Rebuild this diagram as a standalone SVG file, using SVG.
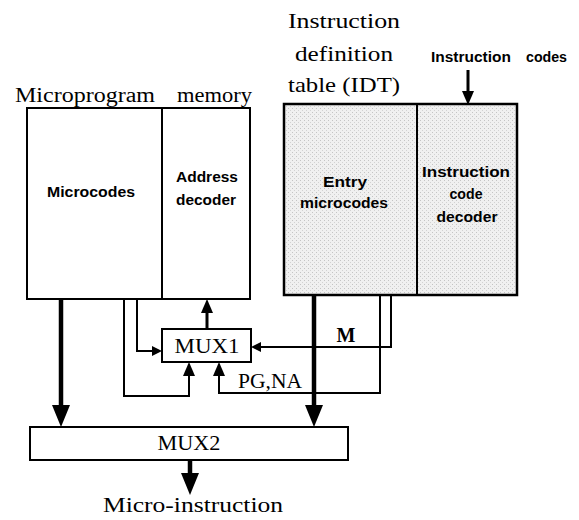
<svg xmlns="http://www.w3.org/2000/svg" width="579" height="520" viewBox="0 0 579 520">
<style>
.box{fill:#fff;stroke:#000;stroke-width:2}
.idt{fill:url(#dots);stroke:#000;stroke-width:2.5}
.div{stroke:#000;stroke-width:2;fill:none}
.thin{fill:none;stroke:#000;stroke-width:2}
.mid{fill:none;stroke:#000;stroke-width:3}
.thick{fill:none;stroke:#000;stroke-width:4.5}
.serif{font-family:"Liberation Serif","Times New Roman",serif;fill:#000}
.sans{font-family:"Liberation Sans",Arial,sans-serif;font-weight:bold;fill:#000}
</style>
<defs>
<pattern id="dots" width="4" height="4" patternUnits="userSpaceOnUse">
<rect width="4" height="4" fill="#f0f0f0"/>
<rect x="0" y="0" width="1" height="1" fill="#c4c4c4"/>
<rect x="2" y="2" width="1" height="1" fill="#d2d2d2"/>
</pattern>
<marker id="big" viewBox="0 -9 22 18" refX="0" refY="0" markerWidth="22" markerHeight="18" markerUnits="userSpaceOnUse" orient="auto"><path d="M0,-9 L22,0 L0,9 z" fill="#000"/></marker>
<marker id="med" viewBox="0 -6 14 12" refX="0" refY="0" markerWidth="14" markerHeight="12" markerUnits="userSpaceOnUse" orient="auto"><path d="M0,-6 L14,0 L0,6 z" fill="#000"/></marker>
<marker id="sm" viewBox="0 -5 10 10" refX="0" refY="0" markerWidth="10" markerHeight="10" markerUnits="userSpaceOnUse" orient="auto"><path d="M0,-5 L10,0 L0,5 z" fill="#000"/></marker>
</defs>

<g id="microprogram-memory">
<text class="serif" font-size="20" y="102"><tspan x="15" textLength="140" lengthAdjust="spacingAndGlyphs">Microprogram</tspan><tspan x="177" textLength="75" lengthAdjust="spacingAndGlyphs">memory</tspan></text>
<rect class="box" x="27" y="108" width="223" height="191"/>
<line class="div" x1="162" y1="108" x2="162" y2="299"/>
<text class="sans" font-size="15" x="91" y="197" text-anchor="middle" textLength="88" lengthAdjust="spacingAndGlyphs">Microcodes</text>
<text class="sans" font-size="15" x="207" y="182" text-anchor="middle" textLength="62" lengthAdjust="spacingAndGlyphs">Address</text>
<text class="sans" font-size="15" x="206" y="205" text-anchor="middle" textLength="60" lengthAdjust="spacingAndGlyphs">decoder</text>
</g>

<g id="idt">
<text class="serif" font-size="21" x="288" y="28" textLength="112" lengthAdjust="spacingAndGlyphs">Instruction</text>
<text class="serif" font-size="21" x="295" y="61" textLength="98" lengthAdjust="spacingAndGlyphs">definition</text>
<text class="serif" font-size="21" x="288" y="92" textLength="112" lengthAdjust="spacingAndGlyphs">table (IDT)</text>
<rect class="idt" x="284" y="104" width="233" height="191"/>
<line class="div" x1="417" y1="104" x2="417" y2="295"/>
<text class="sans" font-size="15" x="345" y="187" text-anchor="middle" textLength="44" lengthAdjust="spacingAndGlyphs">Entry</text>
<text class="sans" font-size="15" x="344" y="208" text-anchor="middle" textLength="88" lengthAdjust="spacingAndGlyphs">microcodes</text>
<text class="sans" font-size="15" x="466" y="177" text-anchor="middle" textLength="88" lengthAdjust="spacingAndGlyphs">Instruction</text>
<text class="sans" font-size="15" x="466" y="199" text-anchor="middle" textLength="33" lengthAdjust="spacingAndGlyphs">code</text>
<text class="sans" font-size="15" x="467" y="222" text-anchor="middle" textLength="61" lengthAdjust="spacingAndGlyphs">decoder</text>
</g>

<g id="instruction-codes">
<text class="sans" font-size="14" y="62"><tspan x="431" textLength="80" lengthAdjust="spacingAndGlyphs">Instruction</tspan><tspan x="526" textLength="41" lengthAdjust="spacingAndGlyphs">codes</tspan></text>
</g>

<g id="mux1">
<rect class="box" x="162" y="329" width="89" height="33"/>
<text class="serif" font-size="21" x="207" y="353" text-anchor="middle" textLength="65" lengthAdjust="spacingAndGlyphs">MUX1</text>
</g>

<g id="mux2">
<rect class="box" x="30" y="427" width="318" height="33"/>
<text class="serif" font-size="21" x="189" y="450" text-anchor="middle" textLength="63" lengthAdjust="spacingAndGlyphs">MUX2</text>
</g>

<g id="output">
<text class="serif" font-size="22" x="193" y="512" text-anchor="middle" textLength="180" lengthAdjust="spacingAndGlyphs">Micro-instruction</text>
</g>

<g id="connectors">
<line class="mid" x1="468" y1="70" x2="468" y2="91" marker-end="url(#med)"/>
<line class="thick" x1="61" y1="299" x2="61" y2="405" marker-end="url(#big)"/>
<line class="thick" x1="314" y1="295" x2="314" y2="405" marker-end="url(#big)"/>
<line class="thick" x1="190" y1="460" x2="190" y2="473" marker-end="url(#big)"/>
<line class="mid" x1="207" y1="329" x2="207" y2="313" marker-end="url(#med)"/>
<path class="thin" d="M124 299 V396 H189 V376" marker-end="url(#med)"/>
<path class="thin" d="M137 299 V351 H152" marker-end="url(#sm)"/>
<path class="thin" d="M391 295 V347 H261" marker-end="url(#sm)"/>
<path class="thin" d="M380 295 V393 H219 V376" marker-end="url(#med)"/>
<text class="serif" font-size="20" x="346" y="342" text-anchor="middle" font-weight="bold">M</text>
<text class="serif" font-size="21" x="238" y="388" textLength="64" lengthAdjust="spacingAndGlyphs">PG,NA</text>
</g>
</svg>
